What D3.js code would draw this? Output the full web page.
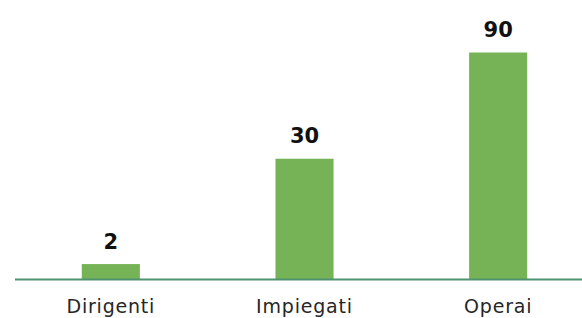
<!DOCTYPE html>
<meta charset="utf-8">
<script src="https://d3js.org/d3.v7.min.js"></script>
<style>
  body { margin: 0; background: #fff; }
</style>
<svg id="chart" width="582" height="318"></svg>
<script>
  // categories and values
  var categories = ["Dirigenti", "Impiegati", "Operai"];
  var labels = [2, 30, 90];          // numbers printed above the bars
  var barPercent = [6.8, 53.2, 100]; // bar lengths (% of tallest)

  var svg = d3.select("#chart"),
    width = +svg.attr("width"),
    height = +svg.attr("height");

  var baseY = 279.5;

  var x = d3.scaleBand()
    .domain(categories)
    .range([14, 595])
    .paddingInner(0.7)
    .paddingOuter(0.35);

  var y = d3.scaleLinear()
    .domain([0, 100])
    .range([baseY, 52.5]);

  // bars
  svg.append("g")
    .selectAll("rect")
    .data(categories)
    .enter()
    .append("rect")
    .attr("x", function (d) { return x(d); })
    .attr("y", function (d, i) { return y(barPercent[i]); })
    .attr("width", x.bandwidth())
    .attr("height", function (d, i) { return baseY - y(barPercent[i]); })
    .attr("fill", "#76b356");

  // baseline
  svg.append("line")
    .attr("x1", 15)
    .attr("x2", width)
    .attr("y1", baseY)
    .attr("y2", baseY)
    .attr("stroke", "#4f9470")
    .attr("stroke-width", 2);

  // value labels
  svg.append("g")
    .selectAll("text")
    .data(categories)
    .enter()
    .append("text")
    .attr("x", function (d) { return x(d) + x.bandwidth() / 2; })
    .attr("y", function (d, i) { return y(barPercent[i]) - 15.5; })
    .attr("text-anchor", "middle")
    .style("font-family", "DejaVu Sans")
    .style("font-weight", "bold")
    .style("font-size", "21px")
    .style("fill", "#111")
    .text(function (d, i) { return labels[i]; });

  // category labels
  svg.append("g")
    .selectAll("text")
    .data(categories)
    .enter()
    .append("text")
    .attr("x", function (d) { return x(d) + x.bandwidth() / 2; })
    .attr("y", 313)
    .attr("text-anchor", "middle")
    .style("font-family", "DejaVu Sans")
    .style("font-size", "19px")
    .style("letter-spacing", "0.8px")
    .style("fill", "#262626")
    .text(function (d) { return d; });
</script>
